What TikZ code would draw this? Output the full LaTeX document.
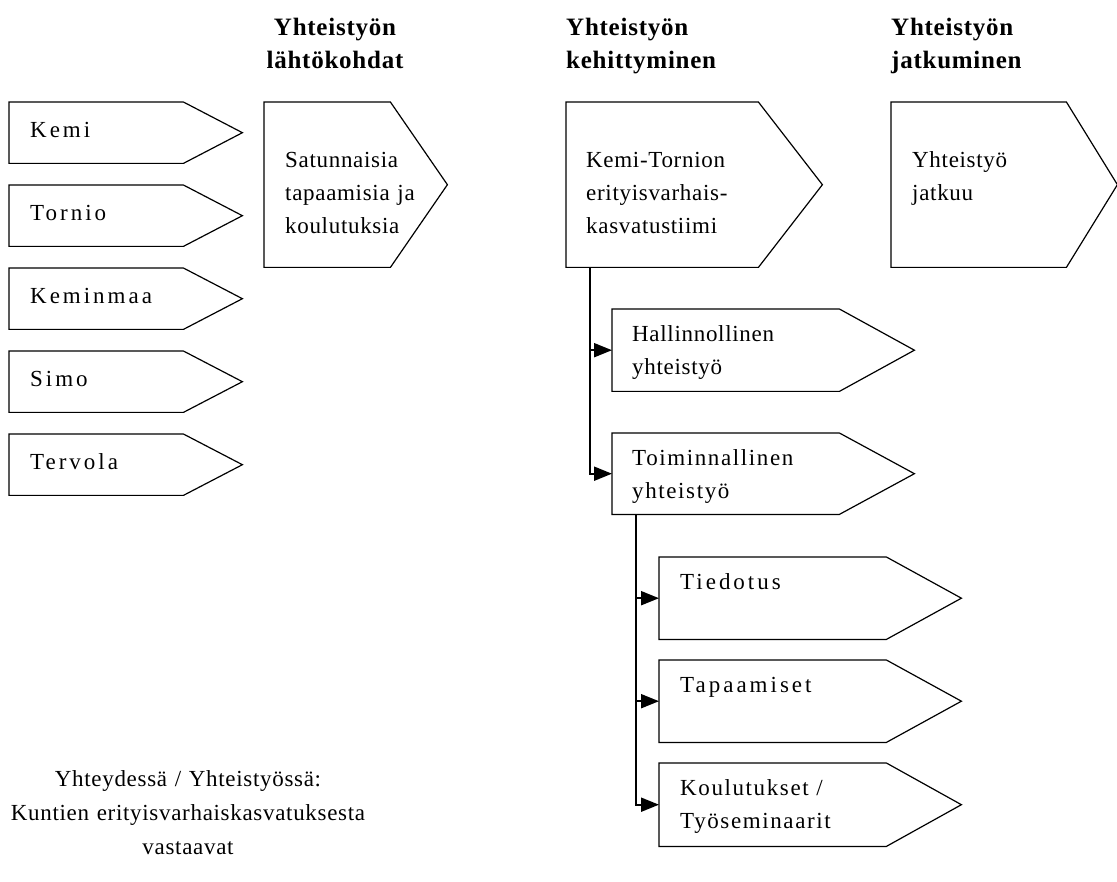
\documentclass[tikz,border=0pt]{standalone}
\usepackage{fontspec}
\setmainfont{Liberation Serif}[LetterSpace=3]
\usetikzlibrary{arrows.meta,calc}

\newcommand{\boxfont}{\fontsize{23}{33}\selectfont}
% pointed box round a named frame node
\newcommand{\pointbox}[2]{%
  \draw[outline] (#1.north west) -- (#1.north east) -- ($(#1.east)+(#2,0)$)
    -- (#1.south east) -- (#1.south west) -- cycle;}

\tikzset{
  frame/.style={inner sep=0pt, anchor=north west},
  outline/.style={line width=1.2pt, line join=miter},
  boxtext/.style={anchor=base west, inner sep=0pt, text width=260pt, align=left,
    font=\boxfont\addfontfeature{LetterSpace=#1}},
  boxtext/.default=3,
  heading/.style={inner sep=0pt, text width=200pt, align=left, font=\fontsize{25}{33}\selectfont\bfseries},
  link/.style={line width=2pt, -{Triangle[length=18pt,width=14pt]}}
}

\begin{document}
\begin{tikzpicture}[x=1pt,y=-1pt]
\useasboundingbox (0,0) rectangle (1117,882);

% Headings
\node[heading, align=center, anchor=base] (head1) at (335,36) {Yhteistyön\\lähtökohdat};
\node[heading, anchor=base west] (head2) at (566,36) {Yhteistyön\\kehittyminen};
\node[heading, anchor=base west] (head3) at (891,36) {Yhteistyön\\jatkuminen};

% Municipalities
\foreach \name/\txt [count=\i from 0] in {kemi/Kemi, tornio/Tornio, keminmaa/Keminmaa, simo/Simo, tervola/Tervola} {
  \node[frame, minimum width=174, minimum height=61] (\name) at (9,102+83*\i) {};
  \pointbox{\name}{59}
  \node[boxtext=13] (\name txt) at ($(\name.north west)+(21,36)$) {\txt};
}

% Main phases
\node[frame, minimum width=126, minimum height=165] (start) at (264,102) {};
\pointbox{start}{57}
\node[boxtext] (starttxt) at ($(start.north west)+(21,66)$) {Satunnaisia\\tapaamisia ja\\koulutuksia};

\node[frame, minimum width=192, minimum height=165] (team) at (566,102) {};
\pointbox{team}{64}
\node[boxtext] (teamtxt) at ($(team.north west)+(20,66)$) {Kemi-Tornion\\erityisvarhais-\\kasvatustiimi};

\node[frame, minimum width=175, minimum height=165] (goon) at (891,102) {};
\pointbox{goon}{51}
\node[boxtext] (goontxt) at ($(goon.north west)+(21,66)$) {Yhteistyö\\jatkuu};

% Forms of cooperation
\node[frame, minimum width=227, minimum height=82] (admin) at (612,309) {};
\pointbox{admin}{75}
\node[boxtext] (admintxt) at ($(admin.north west)+(20,33)$) {Hallinnollinen\\yhteistyö};

\node[frame, minimum width=227, minimum height=81] (action) at (612,433) {};
\pointbox{action}{75}
\node[boxtext=7] (actiontxt) at ($(action.north west)+(20,33)$) {Toiminnallinen\\yhteistyö};

\node[frame, minimum width=227, minimum height=82] (news) at (659,557) {};
\pointbox{news}{75}
\node[boxtext=13] (newstxt) at ($(news.north west)+(21,32)$) {Tiedotus};

\node[frame, minimum width=227, minimum height=82] (meet) at (659,660) {};
\pointbox{meet}{75}
\node[boxtext=13] (meettxt) at ($(meet.north west)+(21,32)$) {Tapaamiset};

\node[frame, minimum width=227, minimum height=83] (train) at (659,763) {};
\pointbox{train}{75}
\node[boxtext=7] (traintxt) at ($(train.north west)+(21,32)$) {Koulutukset /\\Työseminaarit};

% Connectors
\coordinate (fork1) at ($(team.south west)+(24,0)$);
\draw[link] (fork1) |- (admin.west);
\draw[link] (fork1) |- (action.west);
\coordinate (fork2) at ($(action.south west)+(24,0)$);
\draw[link] (fork2) |- (news.west);
\draw[link] (fork2) |- (meet.west);
\draw[link] (fork2) |- (train.west);

% Footnote
\node[inner sep=0pt, anchor=base, text width=420pt, align=center, font=\fontsize{23}{34}\selectfont] (note) at (188,786)
  {Yhteydessä / Yhteistyössä:\\Kuntien erityisvarhaiskasvatuksesta\\vastaavat};
\end{tikzpicture}
\end{document}
